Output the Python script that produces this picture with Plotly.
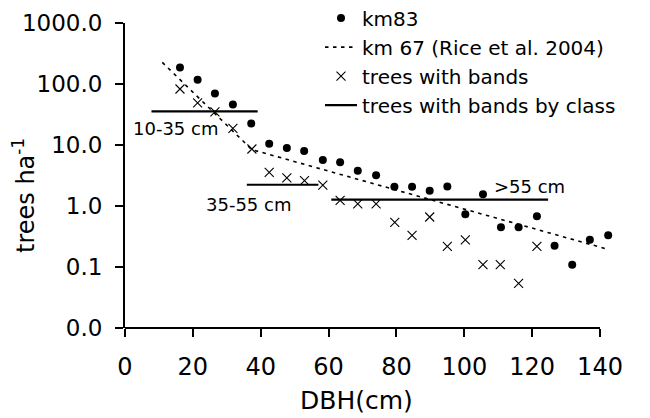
import math
import plotly.graph_objects as go

# km83 observed densities (trees/ha) by DBH position
km83_dbh = [16.2, 21.4, 26.5, 31.8, 37.2, 42.5, 47.7, 52.8, 58.3, 63.4, 68.6, 74.0, 79.4,
            84.6, 89.8, 95.0, 100.3, 105.5, 110.8, 116.0, 121.4, 126.6, 131.8, 137.0, 142.4]
km83_val = [187, 117, 70, 46, 22.6, 10.5, 8.9, 8.0, 5.7, 5.2, 3.8, 3.2, 2.07,
            2.07, 1.78, 2.09, 0.73, 1.56, 0.45, 0.45, 0.68, 0.223, 0.109, 0.28, 0.33]

# km67 fitted line (Rice et al. 2004)
km67_dbh = [11.0, 37.4, 141.6]
km67_val = [226, 8.4, 0.2]

# trees with bands
bands_dbh = [16.2, 21.4, 26.5, 31.8, 37.4, 42.5, 47.7, 52.9, 58.3, 63.4, 68.6, 74.0, 79.5,
             84.6, 89.8, 95.0, 100.3, 105.5, 110.6, 116.0, 121.4]
bands_val = [82.8, 48.9, 34.8, 18.7, 8.6, 3.56, 2.88, 2.60, 2.19, 1.24, 1.08, 1.08, 0.54,
             0.33, 0.66, 0.218, 0.278, 0.109, 0.109, 0.054, 0.218]

# trees with bands by class (segments)
class_x = [[7.8, 39.1], [35.9, 57.0], [60.8, 124.7]]
class_y = [35.6, 2.23, 1.27]
class_labels = ["10-35 cm", "35-55 cm", ">55 cm"]
class_label_x = [14.8, 36.4, 119.2]
class_label_y = [18.5, 1.05, 2.1]

x_ticks = [0, 20, 40, 60, 80, 100, 120, 140]
x_axis_end = 140
y_tickvals = [0.01, 0.1, 1, 10, 100, 1000]
y_ticktext = ["0.0", "0.1", "1.0", "10.0", "100.0", "1000.0"]

FONT = "DejaVu Sans, sans-serif"

seg_x, seg_y = [], []
for (x0, x1), yv in zip(class_x, class_y):
    seg_x += [x0, x1, None]
    seg_y += [yv, yv, None]

fig = go.Figure()
fig.add_trace(go.Scatter(x=km83_dbh, y=km83_val, mode="markers", name="km83",
                         marker=dict(symbol="circle", size=8, color="black"),
                         cliponaxis=False))
fig.add_trace(go.Scatter(x=km67_dbh, y=km67_val, mode="lines", name="km 67 (Rice et al. 2004)",
                         line=dict(color="black", width=1.6, dash="3.5px,4.5px")))
fig.add_trace(go.Scatter(x=bands_dbh, y=bands_val, mode="markers", name="trees with bands",
                         marker=dict(symbol="x-thin", size=9, color="black",
                                     line=dict(color="black", width=1.1)),
                         cliponaxis=False))
fig.add_trace(go.Scatter(x=seg_x, y=seg_y, mode="lines", name="trees with bands by class",
                         line=dict(color="black", width=2.2), connectgaps=False))

for lab, lx, ly in zip(class_labels, class_label_x, class_label_y):
    fig.add_annotation(x=lx, y=math.log10(ly), xref="x", yref="y", text=lab,
                       showarrow=False, font=dict(family=FONT, size=18, color="black"))

# x axis line ends at the last tick (140) while the data run a little beyond it
fig.add_shape(type="line", xref="x", yref="paper", x0=0, x1=x_axis_end, y0=0, y1=0,
              line=dict(color="black", width=2), layer="above")

# plot area on page: left 125, top 23, bottom 328; x=140 at 600 (3.393 px per unit)
PW = 492  # 145 units wide
fig.add_annotation(x=(356.7 - 125) / PW, y=(328 - 400) / 305, xref="paper", yref="paper",
                   text="DBH(cm)", showarrow=False, xanchor="center", yanchor="middle",
                   font=dict(family=FONT, size=25, color="black"))
fig.add_annotation(x=(24 - 125) / PW, y=(328 - 196) / 305, xref="paper", yref="paper",
                   text="trees ha<sup>-1</sup>", showarrow=False, textangle=-90,
                   xanchor="center", yanchor="middle",
                   font=dict(family=FONT, size=24, color="black"))

fig.update_xaxes(range=[0, 145], tickvals=x_ticks, ticks="outside", ticklen=8, tickwidth=2,
                 tickcolor="black", showline=False, showgrid=False, zeroline=False,
                 tickfont=dict(family=FONT, size=24, color="black"), ticklabelstandoff=9)
fig.update_yaxes(type="log", range=[-2, 3], tickvals=y_tickvals, ticktext=y_ticktext,
                 ticks="outside", ticklen=8, tickwidth=2, tickcolor="black",
                 showline=True, linewidth=2, linecolor="black", showgrid=False, zeroline=False,
                 tickfont=dict(family=FONT, size=23, color="black"), ticklabelstandoff=8)

# page has an 8px body margin, so the figure is sized 642x410 to fill the 650x418 window
fig.update_layout(
    width=642, height=410,
    margin=dict(l=117, r=642 - 117 - PW, t=15, b=90, autoexpand=False),
    plot_bgcolor="white", paper_bgcolor="white",
    font=dict(family=FONT, color="black"),
    legend=dict(x=(320 - 125) / PW, y=1.08, xanchor="left", yanchor="top",
                bgcolor="rgba(0,0,0,0)", font=dict(family=FONT, size=20, color="black"),
                tracegroupgap=0, itemwidth=32),
)

fig.write_html("out.html")
